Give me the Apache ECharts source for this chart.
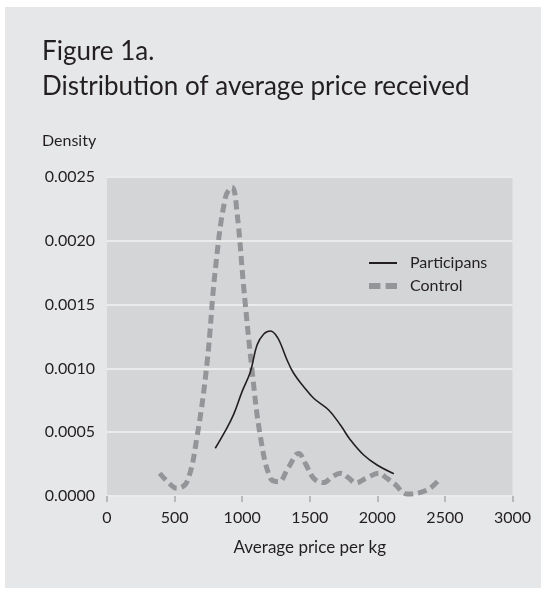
<!DOCTYPE html>
<html><head><meta charset="utf-8">
<script src="https://cdn.jsdelivr.net/npm/echarts@6/dist/echarts.min.js"></script>
<style>html,body{margin:0;padding:0;background:#fff;}#c{width:546px;height:590px;}</style>
</head><body><div id="c"></div>
<script>
const titleLine1 = "Figure 1a.";
const titleLine2 = "Distribution of average price received";
const yAxisTitle = "Density";
const xAxisTitle = "Average price per kg";
const seriesNames = ["Participans", "Control"];
const xTicks = [0, 500, 1000, 1500, 2000, 2500, 3000];
const yTicks = [0, 0.0005, 0.001, 0.0015, 0.002, 0.0025];

const participantsX = [801, 870, 937, 1000, 1061, 1110, 1160, 1209, 1250, 1283, 1332, 1381, 1455, 1529, 1640, 1727, 1801, 1899, 1998, 2122];
const participantsY = [0.000374, 0.000500, 0.000640, 0.000820, 0.000974, 0.001183, 0.001270, 0.001293, 0.001260, 0.001197, 0.001066, 0.000962, 0.000857, 0.000766, 0.000674, 0.000556, 0.000439, 0.000321, 0.000243, 0.000175];

const controlX = [390, 450, 518, 592, 666, 740, 801, 876, 925, 962, 1011, 1073, 1135, 1209, 1270, 1340, 1418, 1470, 1529, 1603, 1665, 1727, 1790, 1838, 1920, 2010, 2070, 2122, 2225, 2369, 2460];
const controlY = [0.000178, 0.00011, 0.00006, 0.000112, 0.000465, 0.00104, 0.00177, 0.00234, 0.00242, 0.00222, 0.00164, 0.000987, 0.000465, 0.000139, 0.000112, 0.00022, 0.000334, 0.00025, 0.000139, 0.000105, 0.00015, 0.000178, 0.00014, 0.000102, 0.00014, 0.000178, 0.00014, 0.0001, 0.000015, 0.000047, 0.000132];

const FONT = "Lato";
const TXT = "#231f20";

const chart = echarts.init(document.getElementById('c'));
chart.setOption({
  animation: false,
  graphic: [
    {type: 'rect', z: -10, shape: {x: 5, y: 7, width: 536, height: 581}, style: {fill: '#e6e7e9'}},
    {type: 'text', left: 42, top: 39, style: {text: titleLine1, font: '26px ' + FONT, fill: TXT}},
    {type: 'text', left: 42, top: 74, style: {text: titleLine2, font: '26px ' + FONT, fill: TXT}},
    {type: 'text', left: 42, top: 133, style: {text: yAxisTitle, font: '16px ' + FONT, fill: TXT}}
  ],
  grid: {left: 107, top: 177, width: 405.5, height: 319, show: true, backgroundColor: '#d4d5d7', borderWidth: 0},
  legend: {
    orient: 'vertical', left: 364, top: 250, itemWidth: 28, itemHeight: 14, itemGap: 7,
    textStyle: {fontFamily: FONT, fontSize: 16, lineHeight: 14, color: TXT, padding: [0, 0, 0, 8]},
    data: [
      {name: seriesNames[0], icon: 'path://M0 0H28V2H0Z'},
      {name: seriesNames[1], icon: 'path://M0 0H11V6H0ZM16 0H27V6H16Z'}
    ]
  },
  xAxis: {
    type: 'value', min: 0, max: 3000, interval: 500,
    name: xAxisTitle, nameLocation: 'middle', nameGap: 43,
    nameTextStyle: {fontFamily: FONT, fontSize: 17, color: TXT},
    axisLine: {show: false},
    axisTick: {show: true, length: 6, lineStyle: {color: '#a7a9ac', width: 1.5}},
    axisLabel: {fontFamily: FONT, fontSize: 16, color: TXT, margin: 14, formatter: v => String(v)},
    splitLine: {show: false}
  },
  yAxis: {
    type: 'value', min: 0, max: 0.0025, interval: 0.0005,
    axisLine: {show: false}, axisTick: {show: false},
    axisLabel: {fontFamily: FONT, fontSize: 16, color: TXT, margin: 12, formatter: v => v.toFixed(4)},
    splitLine: {show: true, lineStyle: {color: '#ebebec', width: 2}}
  },
  series: [
    {
      name: seriesNames[0], type: 'line', smooth: 0.4, symbol: 'none',
      lineStyle: {color: '#231f20', width: 1.6},
      itemStyle: {color: '#231f20'},
      data: participantsX.map((x, i) => [x, participantsY[i]]), z: 3
    },
    {
      name: seriesNames[1], type: 'line', smooth: 0.4, symbol: 'none',
      lineStyle: {color: '#939598', width: 5, type: [9, 5]},
      itemStyle: {color: '#939598'},
      data: controlX.map((x, i) => [x, controlY[i]]), z: 2
    }
  ]
});
</script></body></html>
